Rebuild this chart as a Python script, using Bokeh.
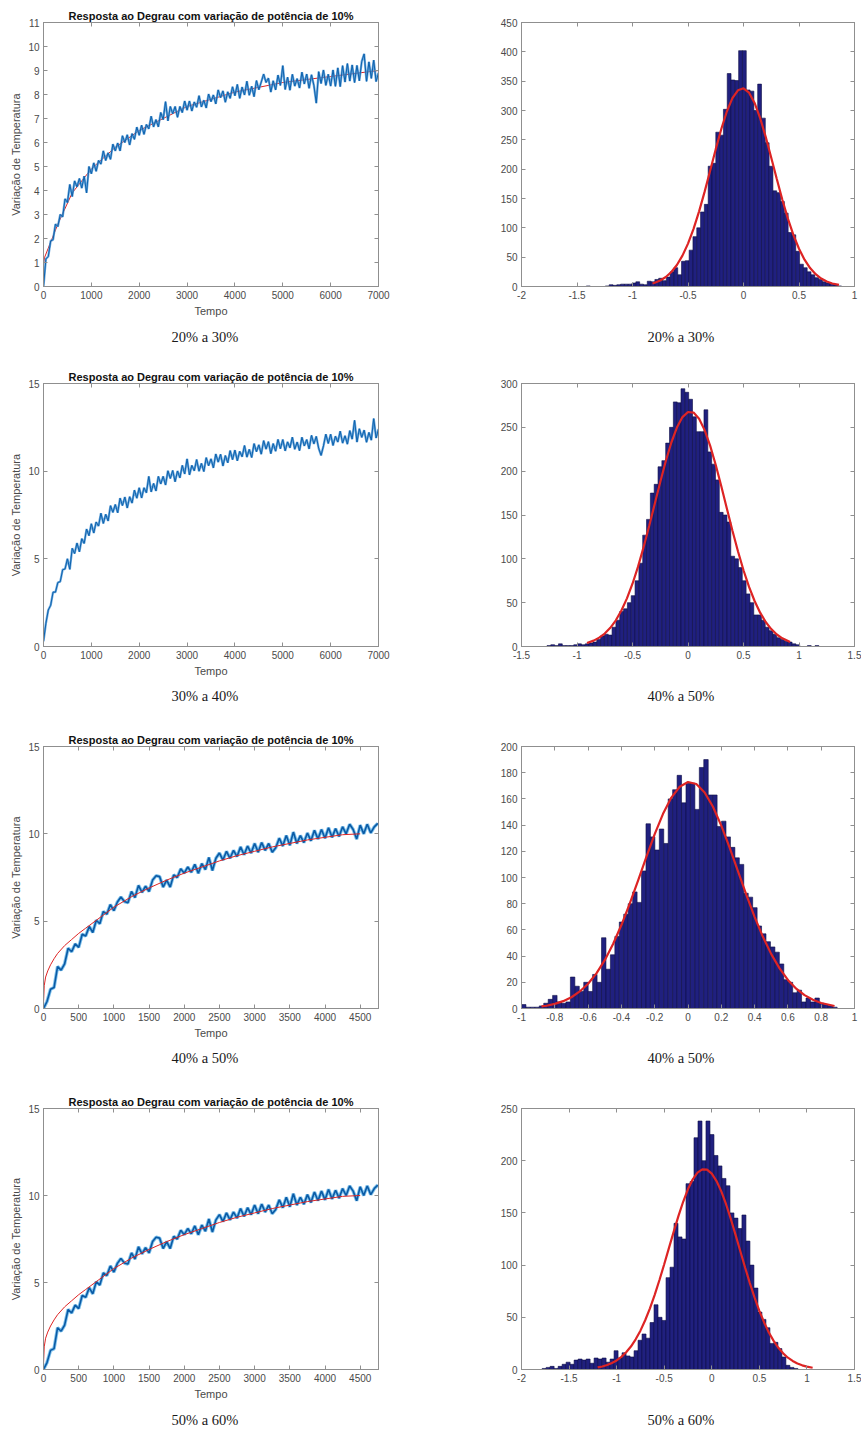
import numpy as np
from bokeh.plotting import figure
from bokeh.models import Range1d, FixedTicker, LinearAxis, Title
from bokeh.layouts import column, row
from bokeh.embed import file_html
from bokeh.resources import INLINE

# ---------------- texts ----------------
TITLE_TXT = "Resposta ao Degrau com variação de potência de 10%"
XLABEL = "Tempo"
YLABEL = "Variação de Temperatura"
captions_left = ["20% a 30%", "30% a 40%", "40% a 50%", "50% a 60%"]
captions_right = ["20% a 30%", "40% a 50%", "40% a 50%", "50% a 60%"]

# ---------------- step responses (sampled every 50 s) ----------------
ts1 = [0.0, 1.15, 1.25, 1.9, 1.95, 2.6, 2.5, 3.0, 2.9, 3.65,
       3.5, 4.25, 3.75, 4.4, 4.15, 4.5, 4.1, 4.6, 3.9, 5.0,
       4.7, 5.15, 4.8, 5.25, 5.1, 5.65, 5.25, 5.57, 5.3, 5.93,
       5.65, 5.98, 5.65, 6.28, 6.0, 6.32, 5.9, 6.37, 6.13, 6.64,
       6.3, 6.72, 6.34, 6.75, 6.57, 7.09, 6.65, 6.95, 6.65, 7.25,
       6.95, 7.7, 6.9, 7.5, 7.2, 7.5, 7.05, 7.5, 7.25, 7.73,
       7.35, 7.73, 7.31, 7.69, 7.47, 7.95, 7.48, 7.76, 7.44, 8.02,
       7.7, 7.98, 7.61, 8.19, 7.87, 8.15, 7.68, 8.11, 7.84, 8.32,
       7.95, 8.42, 7.84, 8.31, 7.98, 8.55, 7.97, 8.34, 7.91, 8.58,
       8.2, 8.52, 8.85, 8.5, 8.68, 8.1, 8.57, 8.19, 8.81, 8.38,
       9.2, 8.21, 8.72, 8.18, 8.84, 8.35, 8.66, 8.27, 8.93, 8.44,
       8.85, 8.26, 8.82, 8.38, 7.64, 8.95, 8.46, 9.02, 8.38, 8.84,
       8.35, 9.02, 8.34, 9.11, 8.33, 9.2, 8.52, 9.29, 8.56, 9.23,
       8.5, 9.21, 8.57, 9.38, 9.69, 8.55, 9.36, 8.67, 9.43, 8.54,
       8.9]
ts2 = [0.3, 1.32, 2.08, 2.35, 3.1, 3.1, 3.65, 3.7, 4.38, 4.42,
       5.0, 4.4, 5.6, 5.3, 5.9, 5.4, 6.15, 5.88, 6.7, 6.32,
       7.0, 6.47, 7.1, 6.87, 7.6, 7.02, 7.54, 7.16, 8.03, 7.65,
       8.1, 7.63, 8.46, 8.04, 8.52, 7.9, 8.54, 8.18, 8.92, 8.46,
       9.05, 8.47, 9.05, 8.77, 9.7, 8.82, 9.3, 8.87, 9.7, 9.27,
       9.7, 9.21, 10.02, 9.58, 10.04, 9.4, 10.01, 9.62, 10.33, 9.84,
       10.7, 9.79, 10.33, 10.02, 10.66, 10.0, 10.44, 9.98, 10.77, 10.31,
       10.7, 10.19, 10.98, 10.52, 10.96, 10.3, 10.89, 10.48, 11.17, 10.66,
       11.2, 10.59, 11.13, 10.82, 11.46, 10.8, 11.24, 10.78, 11.57, 11.11,
       11.5, 10.97, 11.74, 11.26, 11.68, 11.0, 11.57, 11.14, 11.81, 11.28,
       11.8, 11.16, 11.67, 11.33, 11.94, 11.25, 11.66, 11.17, 11.93, 11.44,
       11.8, 11.27, 12.04, 11.56, 11.98, 11.3, 10.9, 11.44, 12.11, 11.58,
       12.1, 11.47, 11.99, 11.66, 12.28, 11.6, 12.02, 11.54, 12.31, 11.83,
       12.9, 11.66, 12.42, 11.93, 12.34, 11.65, 12.21, 11.77, 13.0, 11.89,
       12.4]
ts3 = [0.0, 0.4, 1.1, 1.2, 2.4, 2.2, 2.55, 3.45, 3.25, 3.7,
       3.5, 4.25, 4.15, 4.7, 4.35, 5.05, 4.85, 5.55, 5.4, 5.95,
       5.6, 6.1, 6.38, 6.12, 6.06, 6.7, 6.35, 7.05, 6.65, 7.0,
       6.7, 7.35, 7.6, 7.55, 6.95, 7.35, 6.95, 7.65, 7.5, 8.0,
       7.75, 8.1, 7.8, 8.25, 7.74, 8.3, 7.95, 8.65, 7.9, 8.6,
       8.9, 8.5, 9.0, 8.6, 9.05, 8.7, 9.25, 8.8, 9.3, 8.9,
       9.45, 8.95, 9.5, 9.05, 9.45, 8.95, 9.2, 9.75, 9.3, 9.9,
       9.35, 10.1, 9.45, 9.9, 9.5, 10.05, 9.6, 10.2, 9.7, 10.25,
       9.75, 10.35, 9.8, 10.3, 9.85, 10.4, 10.0, 10.55, 10.25, 9.7,
       10.5, 10.0, 10.55, 10.05, 10.4, 10.6]
ts_end = [7000, 7000, 4750]

# fitted model curves on the step responses
fit1_t = [0, 20, 100, 300, 600, 1000, 1500, 2000, 3000, 4000, 5000, 6000, 7000]
fit1_y = [0.9, 1.2, 1.6, 2.6, 3.9, 4.9, 5.8, 6.5, 7.5, 8.1, 8.5, 8.75, 9.0]
fit3_t = [0, 10, 30, 60, 100, 150, 200, 300, 400, 500, 600, 750, 1000, 1250, 1500,
          1750, 2000, 2250, 2500, 2750, 3000, 3250, 3500, 3750, 4000, 4250, 4500]
fit3_y = [0.3, 1.3, 1.8, 2.15, 2.5, 2.85, 3.15, 3.6, 3.95, 4.3, 4.6, 5.05, 5.8, 6.4, 6.9,
          7.35, 7.75, 8.1, 8.45, 8.75, 9.0, 9.25, 9.45, 9.65, 9.8, 9.95, 10.0]

# ---------------- histograms of residuals ----------------
h1_start, h1_width = -1.45, 0.0343
h1 = [0, 1, 0, 0, 0, 0, 1, 3, 2, 3,
      4, 4, 4, 6, 8, 4, 3, 9, 8, 12,
      14, 10, 16, 25, 32, 20, 43, 44, 62, 85,
      100, 127, 140, 205, 210, 263, 258, 302, 363, 352,
      351, 402, 402, 335, 333, 300, 345, 287, 245, 205,
      163, 160, 145, 125, 92, 88, 60, 38, 32, 25,
      20, 15, 12, 8, 6, 4, 3, 1]
h2_start, h2_width = -1.2705, 0.0345
h2 = [1, 2, 1, 3, 1, 1, 1, 2, 3, 2,
      3, 4, 5, 8, 12, 14, 13, 22, 30, 40,
      43, 50, 58, 75, 95, 127, 145, 175, 185, 205,
      212, 232, 250, 279, 278, 294, 290, 282, 262, 245,
      245, 270, 222, 208, 190, 153, 150, 142, 103, 100,
      90, 75, 60, 50, 36, 36, 30, 22, 18, 14,
      10, 8, 6, 5, 3, 2, 0, 0, 1, 0, 1]
h3_start, h3_width = -1.0, 0.0267
h3 = [3, 1, 1, 1, 2, 4, 7, 10, 5, 4,
      5, 24, 17, 13, 20, 13, 26, 20, 54, 30,
      41, 55, 66, 72, 80, 89, 81, 105, 141, 131,
      121, 137, 126, 160, 167, 178, 157, 172, 172, 152,
      184, 190, 163, 163, 139, 143, 131, 123, 115, 110,
      88, 85, 77, 63, 57, 51, 47, 43, 34, 22,
      20, 12, 14, 5, 8, 5, 8, 4, 3, 2, 1]
h4_start, h4_width = -1.783, 0.042
h4 = [1, 2, 3, 1, 3, 5, 7, 5, 9, 10,
      9, 10, 6, 11, 10, 11, 7, 10, 18, 11,
      16, 13, 12, 18, 28, 34, 30, 45, 62, 50,
      47, 88, 98, 140, 127, 125, 178, 180, 222, 238,
      200, 238, 225, 205, 195, 183, 176, 150, 145, 135,
      148, 123, 100, 78, 55, 48, 40, 25, 26, 20,
      12, 4, 2, 1]

# fitted normal curves
fx1 = [-0.82, -0.8, -0.75, -0.7, -0.65, -0.6, -0.55, -0.5, -0.45, -0.4, -0.35, -0.3,
       -0.25, -0.2, -0.15, -0.1, -0.05, 0.0, 0.05, 0.1, 0.15, 0.2, 0.25, 0.3, 0.35,
       0.4, 0.45, 0.5, 0.55, 0.6, 0.65, 0.7, 0.75, 0.8, 0.86]
fy1 = [5.2, 6.3, 10.3, 16.2, 24.8, 36.7, 52.6, 73.1, 98.3, 128.1, 161.7, 197.7,
       234.1, 268.5, 298.3, 321.0, 334.5, 337.8, 330.3, 312.9, 287.1, 255.1, 219.6, 183.1, 147.9,
       115.7, 87.6, 64.3, 45.7, 31.5, 21.0, 13.6, 8.5, 5.2, 2.7]
fx2 = [-0.91, -0.85, -0.8, -0.75, -0.7, -0.65, -0.6, -0.55, -0.5, -0.45, -0.4, -0.35,
       -0.3, -0.25, -0.2, -0.15, -0.1, -0.05, 0.0, 0.05, 0.1, 0.15, 0.2, 0.25, 0.3,
       0.35, 0.4, 0.45, 0.5, 0.55, 0.6, 0.65, 0.7, 0.75, 0.8, 0.85, 0.92]
fy2 = [3.9, 6.7, 10.1, 14.8, 21.3, 29.9, 41.0, 54.9, 71.6, 91.1, 113.3, 137.4,
       162.5, 187.7, 211.6, 232.7, 249.8, 261.7, 267.5, 266.8, 259.8, 246.8, 228.8, 207.0, 182.8,
       157.5, 132.4, 108.6, 87.0, 68.0, 51.9, 38.6, 28.0, 19.9, 13.7, 9.3, 5.1]
fx3 = [-0.88, -0.85, -0.8, -0.75, -0.7, -0.65, -0.6, -0.55, -0.5, -0.45, -0.4, -0.35,
       -0.3, -0.25, -0.2, -0.15, -0.1, -0.05, 0.0, 0.05, 0.1, 0.15, 0.2, 0.25, 0.3,
       0.35, 0.4, 0.45, 0.5, 0.55, 0.6, 0.65, 0.7, 0.75, 0.8, 0.88]
fy3 = [1.6, 2.1, 3.5, 5.6, 8.6, 13.0, 18.9, 26.8, 36.9, 49.2, 63.7, 80.1,
       97.7, 115.8, 133.1, 148.6, 161.0, 169.3, 172.9, 171.4, 164.9, 154.0, 139.6, 122.8, 104.9,
       87.0, 70.0, 54.7, 41.5, 30.6, 21.8, 15.1, 10.2, 6.7, 4.2, 1.9]
fx4 = [-1.2, -1.15, -1.1, -1.05, -1.0, -0.95, -0.9, -0.85, -0.8, -0.75, -0.7, -0.65,
       -0.6, -0.55, -0.5, -0.45, -0.4, -0.35, -0.3, -0.25, -0.2, -0.15, -0.1, -0.05,
       0.0, 0.05, 0.1, 0.15, 0.2, 0.25, 0.3, 0.35, 0.4, 0.45, 0.5, 0.55, 0.6, 0.65,
       0.7, 0.75, 0.8, 0.85, 0.9, 0.95, 1.0, 1.06]
fy4 = [2.0, 2.9, 4.3, 6.2, 8.7, 12.1, 16.5, 22.0, 28.9, 37.2, 47.2, 58.6,
       71.5, 85.7, 100.8, 116.5, 132.1, 147.1, 160.9, 172.8, 182.2, 188.6, 191.7, 191.4,
       187.6, 180.5, 170.6, 158.3, 144.2, 129.0, 113.3, 97.7, 82.8, 68.8, 56.2, 45.1, 35.5, 27.4,
       20.8, 15.5, 11.3, 8.2, 5.8, 4.0, 2.7, 1.7]

# ---------------- ticks ----------------
xt_7000 = [0, 1000, 2000, 3000, 4000, 5000, 6000, 7000]
xt_4750 = [0, 500, 1000, 1500, 2000, 2500, 3000, 3500, 4000, 4500]
yt_11 = [0, 1, 2, 3, 4, 5, 6, 7, 8, 9, 10, 11]
yt_15 = [0, 5, 10, 15]
hx1 = [-2, -1.5, -1, -0.5, 0, 0.5, 1]
hx1_lab = ["-2", "-1.5", "-1", "-0.5", "0", "0.5", "1"]
hx2 = [-1.5, -1, -0.5, 0, 0.5, 1, 1.5]
hx2_lab = ["-1.5", "-1", "-0.5", "0", "0.5", "1", "1.5"]
hx3 = [-1, -0.8, -0.6, -0.4, -0.2, 0, 0.2, 0.4, 0.6, 0.8, 1]
hx3_lab = ["-1", "-0.8", "-0.6", "-0.4", "-0.2", "0", "0.2", "0.4", "0.6", "0.8", "1"]
hx4 = [-2, -1.5, -1, -0.5, 0, 0.5, 1, 1.5]
hx4_lab = ["-2", "-1.5", "-1", "-0.5", "0", "0.5", "1", "1.5"]
hy1 = [0, 50, 100, 150, 200, 250, 300, 350, 400, 450]
hy2 = [0, 50, 100, 150, 200, 250, 300]
hy3 = [0, 20, 40, 60, 80, 100, 120, 140, 160, 180, 200]
hy4 = [0, 50, 100, 150, 200, 250]

# ---------------- style ----------------
FONT = "Liberation Sans"
SERIF = "Liberation Serif"
AX = "#8f8f8f"
LAB = "#4a4a4a"
RED = "#dd2424"
BAR_FILL = "#20207f"
BAR_LINE = "#0d0d45"

ROW_H = [361, 363, 362, 348]
FRAME_H = [264, 263, 262, 264]
FRAME_TOP = 22
CAP_STANDOFF = [14, 12, 13, 14]


def lab(ticks):
    return [str(t) for t in ticks]


def style(p, xt, xl, yt, yl, xlabel, ylabel):
    p.xgrid.visible = False
    p.ygrid.visible = False
    p.outline_line_color = AX
    p.outline_line_width = 1
    p.background_fill_color = "white"
    p.border_fill_color = "white"
    xa = p.below[0]
    ya = p.left[0]
    for ax, t, l, name in ((xa, xt, xl, xlabel), (ya, yt, yl, ylabel)):
        ax.ticker = FixedTicker(ticks=t)
        ax.major_label_overrides = dict(zip(t, l))
        ax.major_tick_in = 4
        ax.major_tick_out = 0
        ax.minor_tick_line_color = None
        ax.axis_line_color = AX
        ax.major_tick_line_color = AX
        ax.major_label_text_font = FONT
        ax.major_label_text_font_size = "10px"
        ax.major_label_text_color = LAB
        ax.major_label_standoff = 4
        if name is not None:
            ax.axis_label = name
        ax.axis_label_text_font = FONT
        ax.axis_label_text_font_size = "11px"
        ax.axis_label_text_font_style = "normal"
        ax.axis_label_text_color = LAB
        ax.axis_label_standoff = 3
    for loc, t in (("right", yt), ("above", xt)):
        bx = LinearAxis(ticker=FixedTicker(ticks=t),
                        major_label_overrides={v: "" for v in t},
                        major_tick_in=4, major_tick_out=0,
                        minor_tick_line_color=None,
                        axis_line_color=AX, major_tick_line_color=AX,
                        major_label_standoff=0,
                        major_label_text_font_size="1px")
        p.add_layout(bx, loc)


def add_caption(p, text, standoff, offset):
    p.add_layout(Title(text=text, align="left", text_font=SERIF,
                       text_font_size="14.5px", text_font_style="normal",
                       text_color="#1a1a1a", standoff=standoff, offset=offset), "below")


def ts_fig(i, y, t_end, x_max, xt, y_max, yt, halo, core, hw, cw,
           fit_t=None, fit_y=None, fit_on_top=False):
    h = ROW_H[i]
    p = figure(width=430, height=h, x_range=Range1d(0, x_max), y_range=Range1d(0, y_max),
               output_backend="svg", toolbar_location=None,
               min_border_left=43, min_border_right=52,
               min_border_top=FRAME_TOP, min_border_bottom=h - FRAME_TOP - FRAME_H[i])
    p.title.text = TITLE_TXT
    p.title.align = "center"
    p.title.text_font = FONT
    p.title.text_font_size = "11px"
    p.title.text_font_style = "bold"
    p.title.text_color = "#111111"
    p.title.standoff = 1
    t = np.linspace(0, t_end, len(y))
    if fit_t is not None and not fit_on_top:
        p.line(fit_t, fit_y, line_color=RED, line_width=1)
    p.line(t, y, line_color=halo, line_width=hw, line_alpha=0.8)
    p.line(t, y, line_color=core, line_width=cw)
    if fit_t is not None and fit_on_top:
        p.line(fit_t, fit_y, line_color=RED, line_width=1)
    style(p, xt, lab(xt), yt, lab(yt), XLABEL, YLABEL)
    add_caption(p, captions_left[i], CAP_STANDOFF[i], 128)
    return p


def hist_fig(i, heights, start, width, fx, fy, xr, xt, xl, yr, yt):
    h = ROW_H[i]
    p = figure(width=431, height=h, x_range=Range1d(*xr), y_range=Range1d(*yr),
               output_backend="svg", toolbar_location=None,
               min_border_left=91, min_border_right=7,
               min_border_top=FRAME_TOP, min_border_bottom=h - FRAME_TOP - FRAME_H[i])
    p.title.text = ""
    p.title.text_font_size = "1px"
    p.title.standoff = 0
    centers = start + width * (np.arange(len(heights)) + 0.5)
    p.vbar(x=centers, top=heights, bottom=0, width=width,
           fill_color=BAR_FILL, line_color=BAR_LINE, line_width=0.6)
    p.line(fx, fy, line_color=RED, line_width=2.2)
    style(p, xt, xl, yt, lab(yt), " ", None)
    add_caption(p, captions_right[i], CAP_STANDOFF[i], 126)
    return p


L1 = ts_fig(0, ts1, ts_end[0], 7000, xt_7000, 11, yt_11, "#4a94d4", "#0d62ad", 2.3, 1.0,
            fit1_t, fit1_y, False)
L2 = ts_fig(1, ts2, ts_end[1], 7000, xt_7000, 15, yt_15, "#4a94d4", "#0d62ad", 2.3, 1.0)
L3 = ts_fig(2, ts3, ts_end[2], 4760, xt_4750, 15, yt_15, "#5cb0e6", "#0a5aa5", 3.4, 1.6,
            fit3_t, fit3_y, True)
L4 = ts_fig(3, ts3, ts_end[2], 4760, xt_4750, 15, yt_15, "#5cb0e6", "#0a5aa5", 3.4, 1.6,
            fit3_t, fit3_y, True)

R1 = hist_fig(0, h1, h1_start, h1_width, fx1, fy1, (-2, 1), hx1, hx1_lab, (0, 450), hy1)
R2 = hist_fig(1, h2, h2_start, h2_width, fx2, fy2, (-1.5, 1.5), hx2, hx2_lab, (0, 300), hy2)
R3 = hist_fig(2, h3, h3_start, h3_width, fx3, fy3, (-1, 1), hx3, hx3_lab, (0, 200), hy3)
R4 = hist_fig(3, h4, h4_start, h4_width, fx4, fy4, (-2, 1.5), hx4, hx4_lab, (0, 250), hy4)

layout = column(row(L1, R1), row(L2, R2), row(L3, R3), row(L4, R4))
open("out.html", "w").write(file_html(layout, INLINE))
